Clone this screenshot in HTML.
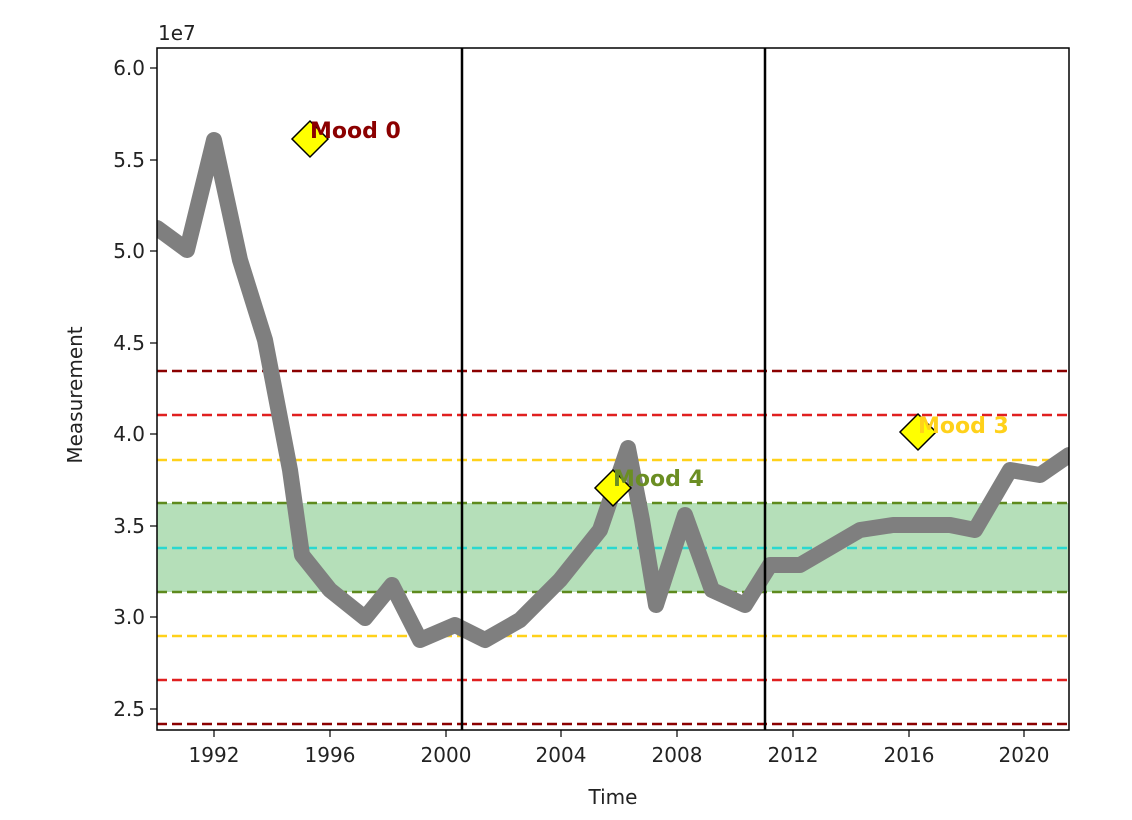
<!DOCTYPE html>
<html><head><style>body{margin:0;background:#fff}svg{display:block}text{font-family:"DejaVu Sans","Liberation Sans",sans-serif}</style></head>
<body>
<svg width="1132" height="820" viewBox="0 0 1132 820">
<defs><clipPath id="c"><rect x="157" y="48" width="912" height="682"/></clipPath></defs>
<g clip-path="url(#c)">
<rect x="157" y="503" width="912" height="89" fill="#b5dfb9"/>
<g stroke-width="2.5" stroke-dasharray="10,5" fill="none">
<line x1="157" x2="1069" y1="371" y2="371" stroke="#8b0000"/>
<line x1="157" x2="1069" y1="415" y2="415" stroke="#e02020"/>
<line x1="157" x2="1069" y1="460" y2="460" stroke="#ffd11a"/>
<line x1="157" x2="1069" y1="503" y2="503" stroke="#5e8a1e"/>
<line x1="157" x2="1069" y1="548" y2="548" stroke="#2ad8d0"/>
<line x1="157" x2="1069" y1="592" y2="592" stroke="#5e8a1e"/>
<line x1="157" x2="1069" y1="636" y2="636" stroke="#ffd11a"/>
<line x1="157" x2="1069" y1="680" y2="680" stroke="#e02020"/>
<line x1="157" x2="1069" y1="724" y2="724" stroke="#8b0000"/>
</g>
<polyline fill="none" stroke="#7f7f7f" stroke-width="16" stroke-linejoin="round" stroke-linecap="round" points="157,228 187,250 214,140 240,260 265,340 290,470 302,555 330,590 365,618 392,585 420,640 455,625 485,640 520,620 560,580 600,530 628,448 642,520 656,605 685,515 712,590 745,605 770,565 800,565 860,530 893,525 950,525 975,530 1010,470 1040,475 1069,455"/>
</g>
<line x1="462" x2="462" y1="48" y2="730" stroke="#000" stroke-width="2.5"/>
<line x1="765" x2="765" y1="48" y2="730" stroke="#000" stroke-width="2.5"/>
<rect x="157" y="48" width="912" height="682" fill="none" stroke="#000" stroke-width="1.5"/>
<g fill="#ffff00" stroke="#000" stroke-width="1.5">
<polygon points="310,121 328,139 310,157 292,139"/>
<polygon points="613,470 631,488 613,506 595,488"/>
<polygon points="918,414 936,432 918,450 900,432"/>
</g>
<g font-weight="bold" font-size="22">
<text x="310" y="138" fill="#8b0000">Mood 0</text>
<text x="613" y="486" fill="#6b8e23">Mood 4</text>
<text x="918" y="433" fill="#ffd11a">Mood 3</text>
</g>
<g font-size="20" fill="#222">
<g text-anchor="end">
<text x="145" y="75">6.0</text><text x="145" y="167">5.5</text><text x="145" y="258">5.0</text><text x="145" y="350">4.5</text><text x="145" y="441">4.0</text><text x="145" y="533">3.5</text><text x="145" y="624">3.0</text><text x="145" y="716">2.5</text>
</g>
<g text-anchor="middle">
<text x="214" y="762">1992</text><text x="330" y="762">1996</text><text x="446" y="762">2000</text><text x="561" y="762">2004</text><text x="677" y="762">2008</text><text x="793" y="762">2012</text><text x="909" y="762">2016</text><text x="1024" y="762">2020</text>
<text x="613" y="804">Time</text>
</g>
<text x="158" y="40">1e7</text>
<text transform="translate(82,395) rotate(-90)" text-anchor="middle">Measurement</text>
</g>
<g stroke="#000" stroke-width="1.2">
<line x1="150" x2="157" y1="68" y2="68"/><line x1="150" x2="157" y1="160" y2="160"/><line x1="150" x2="157" y1="251" y2="251"/><line x1="150" x2="157" y1="343" y2="343"/><line x1="150" x2="157" y1="434" y2="434"/><line x1="150" x2="157" y1="526" y2="526"/><line x1="150" x2="157" y1="617" y2="617"/><line x1="150" x2="157" y1="709" y2="709"/>
<line x1="214" x2="214" y1="730" y2="737"/><line x1="330" x2="330" y1="730" y2="737"/><line x1="446" x2="446" y1="730" y2="737"/><line x1="561" x2="561" y1="730" y2="737"/><line x1="677" x2="677" y1="730" y2="737"/><line x1="793" x2="793" y1="730" y2="737"/><line x1="909" x2="909" y1="730" y2="737"/><line x1="1024" x2="1024" y1="730" y2="737"/>
</g>
</svg>
</body></html>
